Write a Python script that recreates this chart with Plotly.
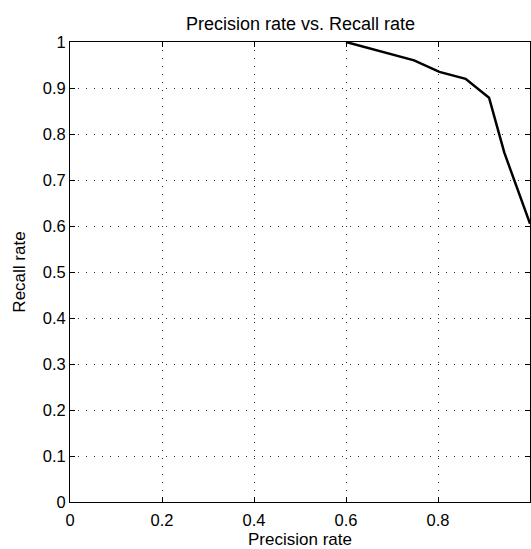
import plotly.graph_objects as go

precision = [0.600, 0.670, 0.748, 0.803, 0.860, 0.911, 0.944, 1.000]
recall = [1.000, 0.981, 0.960, 0.935, 0.920, 0.879, 0.760, 0.605]

x_ticks = [0, 0.2, 0.4, 0.6, 0.8, 1]
x_tick_labels = ["0", "0.2", "0.4", "0.6", "0.8", "1"]
y_ticks = [0, 0.1, 0.2, 0.3, 0.4, 0.5, 0.6, 0.7, 0.8, 0.9, 1]
y_tick_labels = ["0", "0.1", "0.2", "0.3", "0.4", "0.5", "0.6", "0.7", "0.8", "0.9", "1"]

FONT = "Liberation Sans, Arial, Helvetica, sans-serif"

W, H = 531, 549
L, T, B = 70, 42, 44

fig = go.Figure()
fig.add_trace(go.Scatter(
    x=precision, y=recall, mode="lines",
    line=dict(color="black", width=2.5),
    showlegend=False, cliponaxis=True,
))

axis_common = dict(
    showline=True, linecolor="black", linewidth=1, mirror="allticks",
    ticks="inside", ticklen=5, tickcolor="black", tickwidth=1,
    showgrid=True, gridcolor="#333333", gridwidth=1, griddash="1px,7px",
    zeroline=False,
    tickfont=dict(family=FONT, size=16.5, color="black"),
)

fig.update_xaxes(
    range=[0, 1], tickvals=x_ticks, ticktext=x_tick_labels,
    ticklabelstandoff=3,
    title=dict(text="Precision rate", font=dict(family=FONT, size=17, color="black"), standoff=8),
    **axis_common,
)
fig.update_yaxes(
    range=[0, 1], tickvals=y_ticks, ticktext=y_tick_labels,
    title=dict(text="Recall rate", font=dict(family=FONT, size=17, color="black"), standoff=12),
    **axis_common,
)

fig.update_layout(
    width=W, height=H,
    margin=dict(l=L, r=0, t=T, b=B, pad=0),
    paper_bgcolor="white", plot_bgcolor="white",
    title=dict(text="Precision rate vs. Recall rate", x=(L + W) / 2 / W, xanchor="center",
               y=1 - 24 / H, yanchor="middle",
               font=dict(family=FONT, size=18, color="black")),
)

fig.write_html(
    "out.html",
    config={"displayModeBar": False},
    post_script="document.body.style.margin='0';document.body.style.overflow='hidden';",
)
